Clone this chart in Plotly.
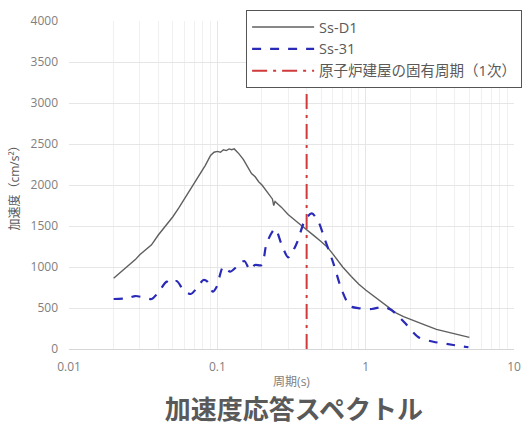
import plotly.graph_objects as go

# Ss-D1 acceleration response spectrum
ssd1_period = [0.02, 0.0225, 0.025, 0.028, 0.03, 0.033, 0.036, 0.04, 0.045, 0.05, 0.055, 0.06,
               0.065, 0.07, 0.076, 0.083, 0.09, 0.095, 0.1, 0.105, 0.11, 0.115, 0.12, 0.125,
               0.13, 0.135, 0.14, 0.15, 0.16, 0.17, 0.18, 0.19, 0.2, 0.21, 0.22, 0.235, 0.24,
               0.245, 0.27, 0.3, 0.35, 0.4, 0.45, 0.5, 0.55, 0.6, 0.65, 0.7, 0.8, 0.9, 1.0,
               1.1, 1.2, 1.4, 1.6, 1.8, 2.0, 2.5, 3.0, 3.5, 4.0, 4.5, 5.0]
ssd1_accel = [862, 940, 1010, 1090, 1150, 1215, 1270, 1390, 1500, 1610, 1720, 1830,
              1930, 2020, 2120, 2240, 2360, 2400, 2410, 2400, 2430, 2420, 2440, 2430,
              2440, 2410, 2380, 2310, 2220, 2140, 2100, 2040, 2000, 1950, 1900, 1830, 1750,
              1800, 1730, 1640, 1540, 1460, 1380, 1310, 1245, 1160, 1070, 1000, 885, 790, 720,
              665, 610, 520, 440, 395, 360, 295, 240, 210, 185, 165, 142]

# Ss-31 acceleration response spectrum
ss31_period = [0.02, 0.0245, 0.028, 0.0317, 0.0361, 0.04, 0.0456, 0.0492, 0.0532, 0.059,
               0.0662, 0.0726, 0.0805, 0.0857, 0.0931, 0.099, 0.1097, 0.122, 0.135, 0.152,
               0.166, 0.179, 0.199, 0.215, 0.245, 0.272, 0.301, 0.343, 0.39, 0.433, 0.48,
               0.532, 0.606, 0.69, 0.785, 0.916, 1.1, 1.32, 1.46, 1.62, 1.85, 2.27, 2.86,
               3.9, 4.93]
ss31_accel = [610, 618, 646, 630, 610, 690, 821, 793, 829, 720,
              671, 740, 841, 821, 699, 760, 1004, 943, 1004, 1073,
              963, 1024, 1024, 1289, 1465, 1268, 1118, 1289, 1573, 1654, 1553,
              1329, 1045, 720, 524, 496, 488, 516, 484, 420, 313, 143, 89,
              49, 21]

# natural period of reactor building (1st mode)
natural_period = [0.4, 0.4]
natural_y = [0, 4000]

font_family = "Open Sans, Noto Sans CJK JP, sans-serif"

fig = go.Figure()
fig.add_trace(go.Scatter(x=ssd1_period, y=ssd1_accel, mode="lines", name="Ss-D1",
                         line=dict(color="#5f5f5f", width=1.4)))
fig.add_trace(go.Scatter(x=ss31_period, y=ss31_accel, mode="lines", name="Ss-31",
                         line=dict(color="#2a2ab8", width=2.2, dash="dash", shape="spline",
                                   smoothing=0.8)))
fig.add_trace(go.Scatter(x=natural_period, y=natural_y, mode="lines",
                         name="原子炉建屋の固有周期（1次）",
                         line=dict(color="#d03a3a", width=2, dash="longdashdot")))

fig.update_layout(
    width=524, height=425,
    margin=dict(l=69, r=10, t=21, b=76, autoexpand=False),
    paper_bgcolor="white", plot_bgcolor="white",
    font=dict(family=font_family, color="#808080", size=12),
    showlegend=True,
    legend=dict(x=0.398, y=1.0335, xanchor="left", yanchor="top",
                bgcolor="white", bordercolor="#555555", borderwidth=1,
                font=dict(size=14.5, color="#595959", family=font_family),
                tracegroupgap=0, itemwidth=62),
    title=dict(text="<b>加速度応答スペクトル</b>", x=0.561, xanchor="center",
               y=0.035, yanchor="middle", yref="container",
               font=dict(size=26, color="#595959", family=font_family)),
)

fig.update_xaxes(type="log", range=[-2, 1], dtick=1,
                 tickvals=[0.01, 0.1, 1, 10], ticktext=["0.01", "0.1", "1", "10"],
                 showgrid=True, gridcolor="#e6e6e6", gridwidth=1,
                 minor=dict(dtick="D1", showgrid=True, gridcolor="#f0f0f0", gridwidth=1),
                 showline=True, linecolor="#d6d6d6", linewidth=1,
                 zeroline=False, ticks="", ticklabelstandoff=7,
                 tickfont=dict(size=12, color="#808080"),
                 title=dict(text="周期(s)", standoff=3, font=dict(size=12, color="#808080")))

fig.update_yaxes(range=[0, 4000], dtick=500,
                 showgrid=True, gridcolor="#e6e6e6", gridwidth=1,
                 showline=False, zeroline=False, ticks="", ticklabelstandoff=10,
                 tickfont=dict(size=12, color="#808080"),
                 title=dict(text="加速度（cm/s²）", standoff=8,
                            font=dict(size=12, color="#595959")))

fig.write_html("out.html", config={"displayModeBar": False},
               post_script="document.body.style.margin='0';")
